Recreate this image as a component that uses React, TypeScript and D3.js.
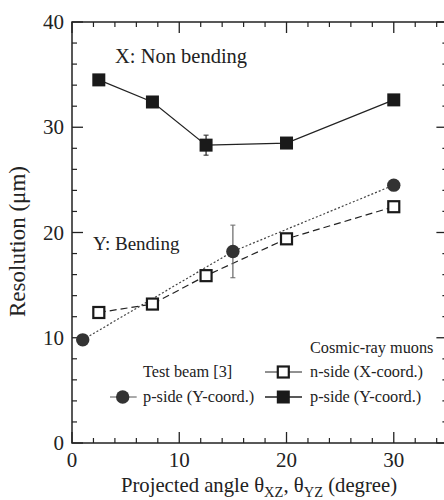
import React from "react";
import * as d3 from "d3";

const cosmicAngles = [2.5, 7.5, 12.5, 20, 30];
const pSideCosmic = [34.5, 32.4, 28.3, 28.5, 32.6];
const pSideCosmicErr = [0, 0, 0.95, 0, 0];
const nSideCosmic = [12.4, 13.2, 15.9, 19.4, 22.45];
const beamAngles = [1, 15, 30];
const pSideBeam = [9.8, 18.2, 24.5];
const pSideBeamErr = [0, 2.5, 0.4];
const xTicksMajor = [0, 10, 20, 30];
const yTicksMajor = [0, 10, 20, 30, 40];

const W = 444;
const H = 500;
const FONT = "Liberation Serif";

export default function App() {
  const x = d3.scaleLinear().domain([0, 35]).range([72, 447.4]);
  const y = d3.scaleLinear().domain([0, 40]).range([443, 22]);
  const x0 = x(0), x1 = x(35), y0 = y(0), y1 = y(40);

  const xMinor = d3.range(0, 35.01, 2).filter((v) => v % 10 !== 0);
  const yMinor = d3.range(0, 40.01, 2).filter((v) => v % 10 !== 0);

  const line = d3
    .line<[number, number]>()
    .x((d) => x(d[0]))
    .y((d) => y(d[1]));

  const pData = cosmicAngles.map((a, i) => [a, pSideCosmic[i]] as [number, number]);
  const nData = cosmicAngles.map((a, i) => [a, nSideCosmic[i]] as [number, number]);
  const bData = beamAngles.map((a, i) => [a, pSideBeam[i]] as [number, number]);

  const SQ = 13;
  const R = 6.7;
  const MAJ = 11;
  const MIN = 5;

  return (
    <svg
      width={W}
      height={H}
      style={{ position: "fixed", left: 0, top: 0, background: "#fff" }}
      fontFamily={FONT}
    >
      <rect x={0} y={0} width={W} height={H} fill="#fff" />
      {/* frame */}
      <rect x={x0} y={y1} width={x1 - x0} height={y0 - y1} fill="none" stroke="#222" strokeWidth={1.5} />
      {/* x ticks bottom/top */}
      {xTicksMajor.map((v) => (
        <g key={"xm" + v}>
          <line x1={x(v)} x2={x(v)} y1={y0} y2={y0 - MAJ} stroke="#222" strokeWidth={1.3} />
          <line x1={x(v)} x2={x(v)} y1={y1} y2={y1 + MAJ} stroke="#222" strokeWidth={1.3} />
          <text x={x(v)} y={467} fontSize={21} textAnchor="middle" fill="#222">
            {v}
          </text>
        </g>
      ))}
      {xMinor.map((v) => (
        <g key={"xn" + v}>
          <line x1={x(v)} x2={x(v)} y1={y0} y2={y0 - MIN} stroke="#222" strokeWidth={1.2} />
          <line x1={x(v)} x2={x(v)} y1={y1} y2={y1 + MIN} stroke="#222" strokeWidth={1.2} />
        </g>
      ))}
      {/* y ticks left/right */}
      {yTicksMajor.map((v) => (
        <g key={"ym" + v}>
          <line x1={x0} x2={x0 + MAJ} y1={y(v)} y2={y(v)} stroke="#222" strokeWidth={1.3} />
          <line x1={x1} x2={x1 - MAJ} y1={y(v)} y2={y(v)} stroke="#222" strokeWidth={1.3} />
          <text x={64} y={y(v) + 7} fontSize={21} textAnchor="end" fill="#222">
            {v}
          </text>
        </g>
      ))}
      {yMinor.map((v) => (
        <g key={"yn" + v}>
          <line x1={x0} x2={x0 + MIN} y1={y(v)} y2={y(v)} stroke="#222" strokeWidth={1.2} />
          <line x1={x1} x2={x1 - MIN} y1={y(v)} y2={y(v)} stroke="#222" strokeWidth={1.2} />
        </g>
      ))}

      {/* axis titles */}
      <text
        transform={`translate(25, 241.5) rotate(-90)`}
        fontSize={23}
        textAnchor="middle"
        fill="#222"
      >
        Resolution (μm)
      </text>
      <text x={259} y={492} fontSize={20.7} textAnchor="middle" fill="#222">
        Projected angle θ
        <tspan fontSize={14.5} dy={5}>XZ</tspan>
        <tspan dy={-5}>, θ</tspan>
        <tspan fontSize={14.5} dy={5}>YZ</tspan>
        <tspan dy={-5}> (degree)</tspan>
      </text>

      {/* annotations */}
      <text x={115} y={63} fontSize={20.5} fill="#222">
        X: Non bending
      </text>
      <text x={93} y={250} fontSize={19} fill="#222">
        Y: Bending
      </text>

      {/* series lines */}
      <path d={line(bData) || ""} fill="none" stroke="#444" strokeWidth={1.2} strokeDasharray="2,2" />
      <path d={line(nData) || ""} fill="none" stroke="#222" strokeWidth={1.2} strokeDasharray="7,4" />
      <path d={line(pData) || ""} fill="none" stroke="#222" strokeWidth={1.2} />

      {/* error bars */}
      {beamAngles.map((a, i) =>
        pSideBeamErr[i] > 0 ? (
          <g key={"be" + i}>
            <line x1={x(a)} x2={x(a)} y1={y(pSideBeam[i] - pSideBeamErr[i])} y2={y(pSideBeam[i] + pSideBeamErr[i])} stroke="#666" strokeWidth={1.2} />
            <line x1={x(a) - 2.5} x2={x(a) + 2.5} y1={y(pSideBeam[i] - pSideBeamErr[i])} y2={y(pSideBeam[i] - pSideBeamErr[i])} stroke="#666" strokeWidth={1} />
            <line x1={x(a) - 2.5} x2={x(a) + 2.5} y1={y(pSideBeam[i] + pSideBeamErr[i])} y2={y(pSideBeam[i] + pSideBeamErr[i])} stroke="#666" strokeWidth={1} />
          </g>
        ) : null
      )}
      {cosmicAngles.map((a, i) =>
        pSideCosmicErr[i] > 0 ? (
          <g key={"ce" + i}>
            <line x1={x(a)} x2={x(a)} y1={y(pSideCosmic[i] - pSideCosmicErr[i])} y2={y(pSideCosmic[i] + pSideCosmicErr[i])} stroke="#222" strokeWidth={1.2} />
            <line x1={x(a) - 2.5} x2={x(a) + 2.5} y1={y(pSideCosmic[i] - pSideCosmicErr[i])} y2={y(pSideCosmic[i] - pSideCosmicErr[i])} stroke="#222" strokeWidth={1} />
            <line x1={x(a) - 2.5} x2={x(a) + 2.5} y1={y(pSideCosmic[i] + pSideCosmicErr[i])} y2={y(pSideCosmic[i] + pSideCosmicErr[i])} stroke="#222" strokeWidth={1} />
          </g>
        ) : null
      )}

      {/* markers */}
      {bData.map((d, i) => (
        <circle key={"bc" + i} cx={x(d[0])} cy={y(d[1])} r={R} fill="#333" />
      ))}
      {nData.map((d, i) => (
        <rect key={"ns" + i} x={x(d[0]) - SQ / 2 + 1} y={y(d[1]) - SQ / 2 + 1} width={SQ - 2} height={SQ - 2} fill="#fff" stroke="#1a1a1a" strokeWidth={2.2} />
      ))}
      {pData.map((d, i) => (
        <rect key={"ps" + i} x={x(d[0]) - SQ / 2} y={y(d[1]) - SQ / 2} width={SQ} height={SQ} fill="#1a1a1a" />
      ))}

      {/* legend */}
      <text x={310} y={353} fontSize={16.3} fill="#222">Cosmic-ray muons</text>
      <text x={143} y={377} fontSize={16.3} fill="#222">Test beam [3]</text>
      <line x1={110} x2={136.7} y1={397} y2={397} stroke="#555" strokeWidth={1} />
      <circle cx={122.7} cy={397} r={R} fill="#333" />
      <text x={143} y={402} fontSize={16.3} fill="#222">p-side (Y-coord.)</text>
      <line x1={265} x2={302} y1={372} y2={372} stroke="#222" strokeWidth={1} />
      <rect x={283.3 - SQ / 2 + 1} y={372 - SQ / 2 + 1} width={SQ - 2} height={SQ - 2} fill="#fff" stroke="#1a1a1a" strokeWidth={2.2} />
      <text x={310} y={377} fontSize={16.3} fill="#222">n-side (X-coord.)</text>
      <line x1={265} x2={302} y1={397} y2={397} stroke="#222" strokeWidth={1.5} />
      <rect x={283.3 - SQ / 2} y={397 - SQ / 2} width={SQ} height={SQ} fill="#1a1a1a" />
      <text x={310} y={402} fontSize={16.3} fill="#222">p-side (Y-coord.)</text>
    </svg>
  );
}
